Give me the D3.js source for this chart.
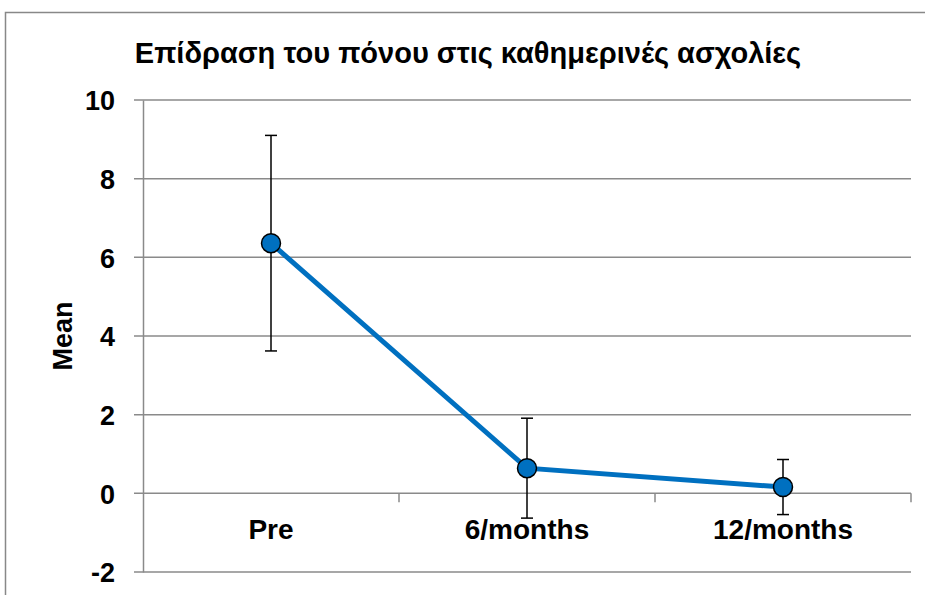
<!DOCTYPE html>
<html>
<head>
<meta charset="utf-8">
<script src="https://cdn.jsdelivr.net/npm/d3@7"></script>
<style>
  html, body { margin: 0; padding: 0; background: #fff; }
  svg { display: block; }
  text { font-family: "Liberation Sans", Arial, sans-serif; font-weight: bold; fill: #000; }
</style>
</head>
<body>
<script>
// Pain impact on daily activities: mean score with error bars over time
const categories = ["Pre", "6/months", "12/months"];
const means = [6.36, 0.64, 0.16];
const errors = [2.74, 1.27, 0.70];
const yTicks = [-2, 0, 2, 4, 6, 8, 10];
const title = "Επίδραση του πόνου στις καθημερινές ασχολίες";
const yTitle = "Mean";

const W = 925, H = 595;
const margin = { left: 143, right: 14, top: 100, bottom: 23 };
const font = "'Liberation Sans', Arial, sans-serif";

const svg = d3.select("body").append("svg")
  .attr("width", W).attr("height", H);

// outer chart frame
svg.append("rect")
  .attr("x", 5.5).attr("y", 12.5)
  .attr("width", W + 10).attr("height", H + 10)
  .attr("fill", "#fff").attr("stroke", "#888").attr("stroke-width", 1.5);

const x = d3.scaleBand()
  .domain(categories)
  .range([margin.left, W - margin.right]);

const y = d3.scaleLinear()
  .domain([-2, 10])
  .range([H - margin.bottom, margin.top]);

const grid = "#8a8a8a";

// horizontal gridlines with left tick marks
svg.append("g")
  .selectAll("line")
  .data(yTicks)
  .join("line")
  .attr("x1", margin.left - 9)
  .attr("x2", W - margin.right)
  .attr("y1", d => y(d)).attr("y2", d => y(d))
  .attr("stroke", grid).attr("stroke-width", 1.5);

// y axis line and labels (hyphen for negative numbers)
const yAxis = svg.append("g")
  .attr("transform", `translate(${margin.left},0)`)
  .call(d3.axisLeft(y).tickValues(yTicks).tickSize(0).tickPadding(28)
    .tickFormat(d => String(d)));
yAxis.select(".domain").attr("stroke", grid).attr("stroke-width", 1.5);
yAxis.selectAll("text")
  .style("font-family", font)
  .style("font-weight", "bold")
  .style("font-size", "27px")
  .attr("dy", "0.36em")
  .attr("fill", "#000");

// category axis at zero
const xAxis = svg.append("g")
  .attr("transform", `translate(0,${y(0)})`)
  .call(d3.axisBottom(x).tickSize(0));
xAxis.select(".domain").remove();
xAxis.selectAll("text")
  .style("font-family", font)
  .style("font-weight", "bold")
  .style("font-size", "28px")
  .attr("y", 46)
  .attr("dy", 0)
  .attr("fill", "#000");

// category boundary ticks
const bounds = categories.slice(1).map(c => x(c)).concat([x.range()[1]]);
svg.append("g")
  .selectAll("line")
  .data(bounds)
  .join("line")
  .attr("x1", d => d).attr("x2", d => d)
  .attr("y1", y(0)).attr("y2", y(0) + 9)
  .attr("stroke", grid).attr("stroke-width", 1.5);

const cx = c => x(c) + x.bandwidth() / 2;

// error bars
const eb = svg.append("g").attr("stroke", "#000").attr("stroke-width", 1.5);
categories.forEach((c, i) => {
  const top = y(means[i] + errors[i]);
  const bot = y(means[i] - errors[i]);
  eb.append("line").attr("x1", cx(c)).attr("x2", cx(c)).attr("y1", top).attr("y2", bot);
  eb.append("line").attr("x1", cx(c) - 6).attr("x2", cx(c) + 6).attr("y1", top).attr("y2", top);
  eb.append("line").attr("x1", cx(c) - 6).attr("x2", cx(c) + 6).attr("y1", bot).attr("y2", bot);
});

// mean line
const line = d3.line()
  .x((d, i) => cx(categories[i]))
  .y(d => y(d));
svg.append("path")
  .datum(means)
  .attr("d", line)
  .attr("fill", "none")
  .attr("stroke", "#0070C0")
  .attr("stroke-width", 5);

// markers
svg.append("g")
  .selectAll("circle")
  .data(means)
  .join("circle")
  .attr("cx", (d, i) => cx(categories[i]))
  .attr("cy", d => y(d))
  .attr("r", 9.5)
  .attr("fill", "#0070C0")
  .attr("stroke", "#000")
  .attr("stroke-width", 1.5);

// title
svg.append("text")
  .attr("x", 468).attr("y", 63)
  .attr("text-anchor", "middle")
  .style("font-size", "29px")
  .text(title);

// y axis title
svg.append("text")
  .attr("transform", `translate(72,${y(4)}) rotate(-90)`)
  .attr("text-anchor", "middle")
  .style("font-size", "27px")
  .text(yTitle);
</script>
</body>
</html>
